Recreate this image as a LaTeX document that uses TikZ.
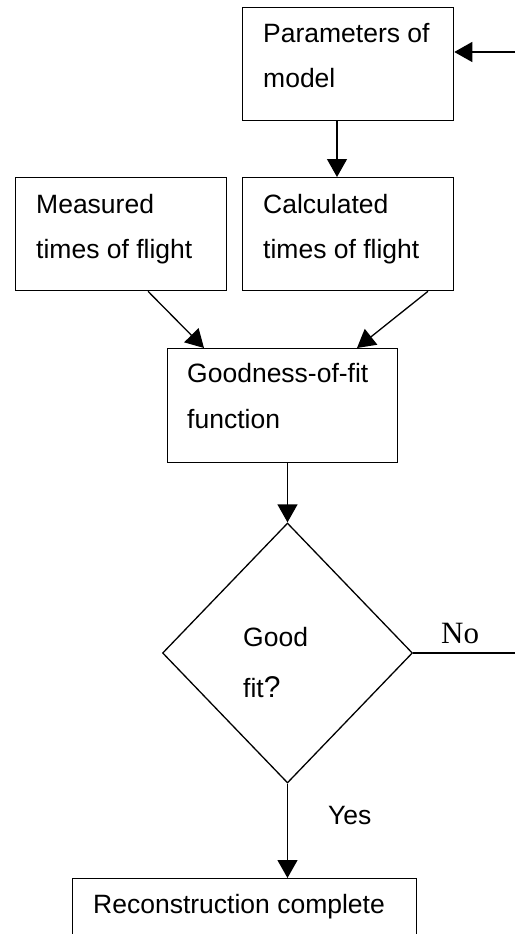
\documentclass[tikz,border=0pt]{standalone}
\usepackage{fontspec}
\setmainfont{Liberation Sans}
\newfontfamily\serifno{Liberation Serif}
\usetikzlibrary{arrows.meta,shapes.geometric,calc}
\begin{document}
\begin{tikzpicture}[x=1pt,y=-1pt,
 box/.style={draw,line width=1.3pt,rectangle,inner sep=0pt,anchor=north west},
 lbl/.style={anchor=base west,inner sep=0pt,font=\fontsize{26.5}{30}\selectfont},
 conn/.style={line width=1.3pt,-{Triangle[length=18pt,width=20pt]}},
 plain/.style={line width=1.3pt}]
\useasboundingbox (0,0) rectangle (515,934);
% boxes
\node[box,minimum width=211pt,minimum height=113pt] (par) at (242,7) {};
\node[box,minimum width=211pt,minimum height=113pt] (meas) at (15,177) {};
\node[box,minimum width=211pt,minimum height=113pt] (calc) at (242,177) {};
\node[box,minimum width=230pt,minimum height=114pt] (gof) at (167,348) {};
\node[draw,line width=1.3pt,diamond,inner sep=0pt,minimum width=250pt,minimum height=260pt] (dec) at (287.5,653) {};
\node[box,minimum width=344pt,minimum height=90pt] (rec) at (72,878) {};
% texts
\node[lbl] (t1) at (263,43) {Parameters of};
\node[lbl] (t2) at (263,88) {model};
\node[lbl] (t3) at (36,213) {Measured};
\node[lbl] (t4) at (36,258) {times of flight};
\node[lbl] (t5) at (263,213) {Calculated};
\node[lbl] (t6) at (263,258) {times of flight};
\node[lbl] (t7) at (187,382) {Goodness-of-fit};
\node[lbl] (t8) at (187,428) {function};
\node[lbl] (t9) at (243,646) {Good};
\node[lbl] (t10) at (243,697) {fit{\fontsize{30}{30}\selectfont?}};
\node[lbl] (t11) at (93,913) {Reconstruction complete};
\node[lbl] (yes) at (328,824) {Yes};
\node[lbl,font=\serifno\fontsize{31}{33}\selectfont] (no) at (441,643) {No};
% free ends
\coordinate (noend) at (515,653);
\coordinate (fbstart) at (515,52);
% connectors
\draw[conn] (par.south -| 337,0) -- (calc.north -| 337,0);
\draw[conn] ($(meas.south west)+(133,0)$) -- ($(gof.north west)+(37,0)$);
\draw[conn] ($(calc.south west)+(186,0)$) -- ($(gof.north west)+(190,0)$);
\draw[conn] (gof.south -| dec.north) -- (dec.north);
\draw[conn] (dec.south) -- (rec.north -| dec.south);
\draw[plain] (dec.east) -- (noend |- dec.east);
\draw[conn] (fbstart) -- (par.east |- fbstart);
\end{tikzpicture}
\end{document}
